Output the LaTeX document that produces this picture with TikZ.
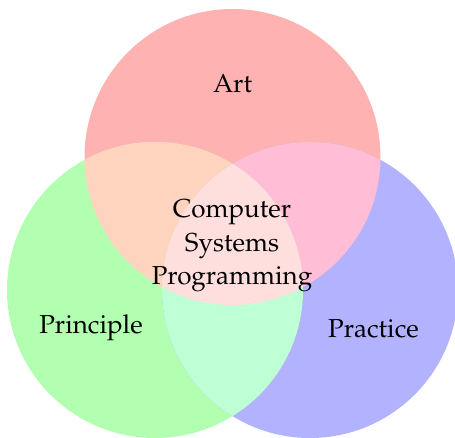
\documentclass[tikz,border=0pt]{standalone}
\usepackage[T1]{fontenc}
\usepackage{mathpazo}
\definecolor{artc}{RGB}{255,178,178}
\definecolor{princ}{RGB}{179,255,178}
\definecolor{pracc}{RGB}{178,178,255}
\definecolor{artprin}{RGB}{255,212,190}
\definecolor{artprac}{RGB}{255,189,214}
\definecolor{prinprac}{RGB}{190,255,214}
\definecolor{allc}{RGB}{255,222,222}
\tikzset{
  lbl/.style={font=\fontsize{26}{33.5}\selectfont, text=black, inner sep=0pt, anchor=base, align=center}
}
\begin{document}
\begin{tikzpicture}[x=1pt,y=-1pt]
  \useasboundingbox (0,0) rectangle (455,438);
  \def\artcirc{(232.5,157) circle (148)}
  \def\princirc{(155,290) circle (148)}
  \def\praccirc{(310,290) circle (148)}
  % single sets
  \fill[artc] \artcirc;
  \fill[princ] \princirc;
  \fill[pracc] \praccirc;
  % pairwise overlaps
  \begin{scope}
    \clip \artcirc;
    \fill[artprin] \princirc;
  \end{scope}
  \begin{scope}
    \clip \artcirc;
    \fill[artprac] \praccirc;
  \end{scope}
  \begin{scope}
    \clip \princirc;
    \fill[prinprac] \praccirc;
  \end{scope}
  % triple overlap
  \begin{scope}
    \clip \artcirc;
    \clip \princirc;
    \fill[allc] \praccirc;
  \end{scope}
  % labels (a multi-line node sits on the baseline of its last line)
  \node[lbl] (art) at (232.5,93) {Art};
  \node[lbl] (principle) at (91,333) {Principle};
  \node[lbl] (practice) at (373.5,337) {Practice};
  \node[lbl] (csp) at (232,285) {Computer\\Systems\\Programming};
\end{tikzpicture}
\end{document}
